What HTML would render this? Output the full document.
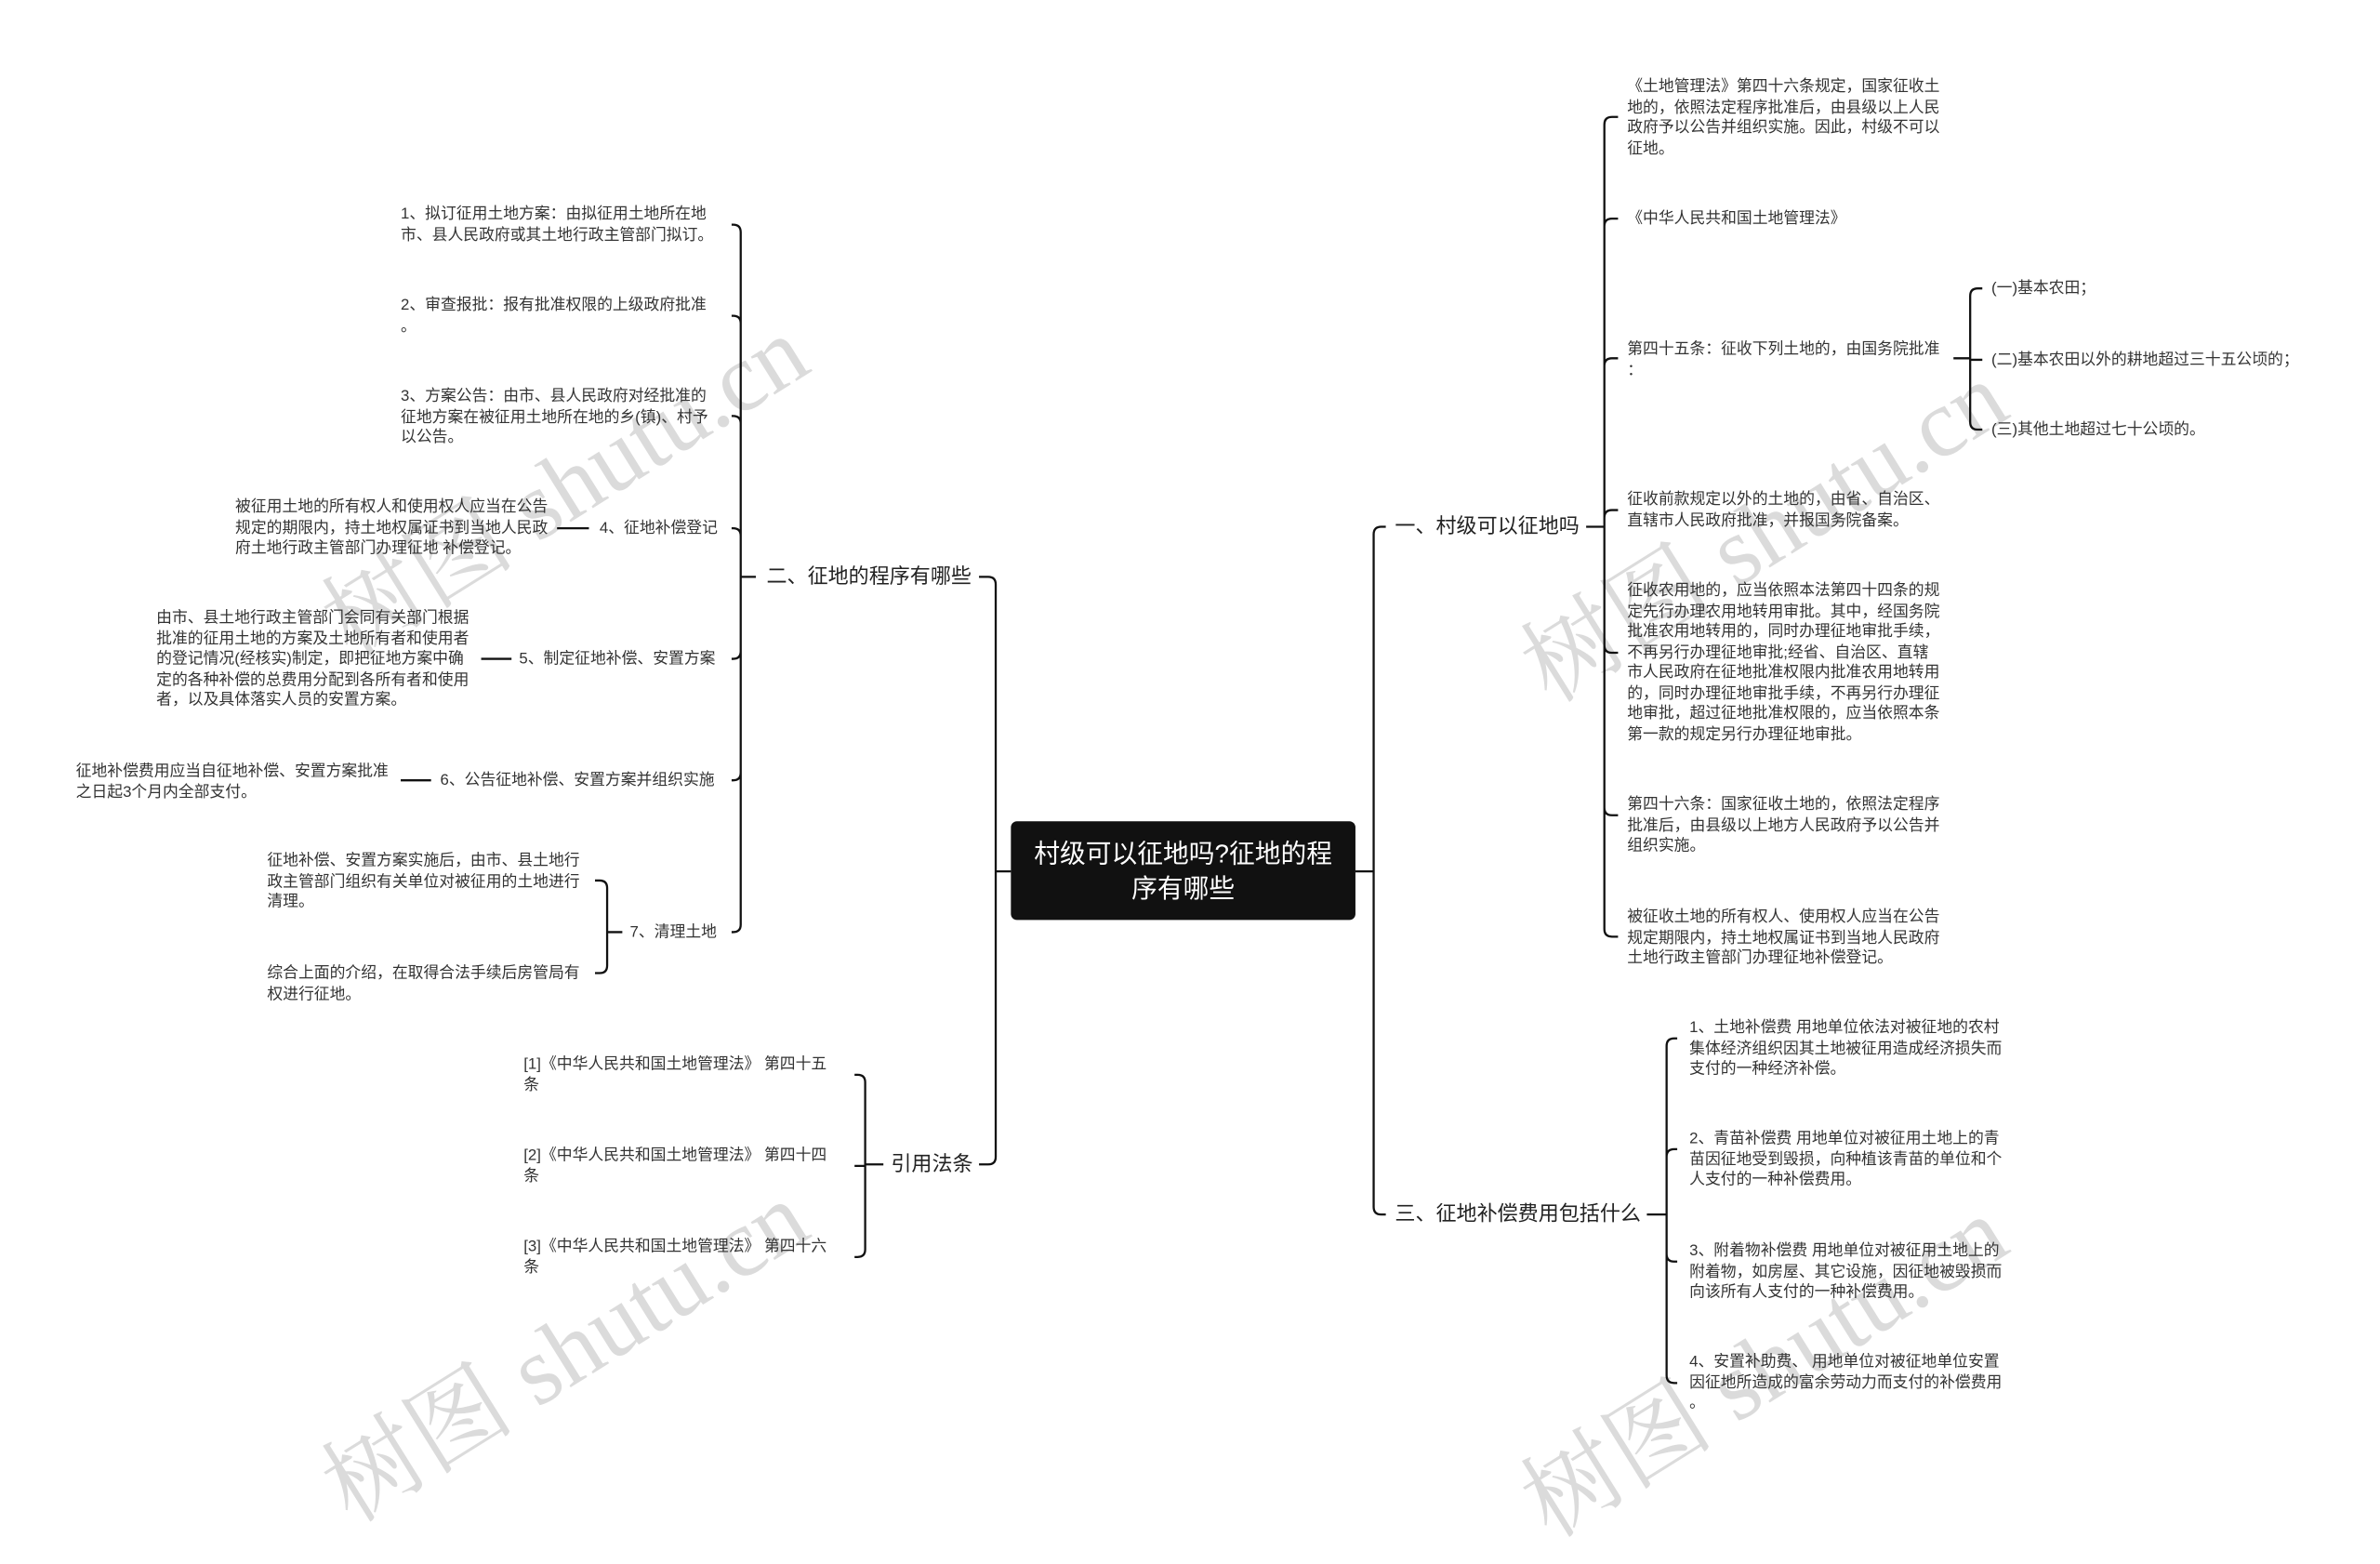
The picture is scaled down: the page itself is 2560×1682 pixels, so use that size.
<!DOCTYPE html>
<html><head><meta charset="utf-8"><style>
html,body{margin:0;padding:0;background:#fff;width:2560px;height:1601px;overflow:hidden}
#w{position:absolute;left:0;top:0;width:1568px;height:981px;transform:scale(1.63265);transform-origin:0 0;font-family:"Liberation Sans","Noto Sans CJK SC",sans-serif;color:#333}
.t{position:absolute;font-size:10.3px;line-height:13.5px;white-space:nowrap;margin-top:1px}
.b{position:absolute;font-size:13.5px;line-height:18px;white-space:nowrap;color:#222}
.wm{position:absolute;font-family:"Liberation Serif","Noto Serif CJK SC",serif;font-size:64px;color:rgba(190,190,190,0.55);transform:rotate(-32deg);white-space:nowrap}
svg{position:absolute;left:0;top:0}
</style></head><body><div id="w">
<div class="wm" style="left:190px;top:270px">树图 shutu.cn</div>
<div class="wm" style="left:980px;top:300px">树图 shutu.cn</div>
<div class="wm" style="left:190px;top:840px">树图 shutu.cn</div>
<div class="wm" style="left:980px;top:850px">树图 shutu.cn</div>
<svg id="s" width="1568" height="981" viewBox="0 0 1568 981"></svg>
<div style="position:absolute;left:666px;top:541px;width:227px;height:65px;background:#111;border-radius:4px;color:#fff;font-size:17px;line-height:23px;text-align:center;display:flex;align-items:center;justify-content:center">村级可以征地吗?征地的程<br>序有哪些</div>

<div class="b" style="left:505px;top:371px">二、征地的程序有哪些</div>
<div class="b" style="left:587px;top:758px">引用法条</div>
<div class="b" style="left:919px;top:338px">一、村级可以征地吗</div>
<div class="b" style="left:919px;top:791px">三、征地补偿费用包括什么</div>

<div class="t" style="left:264px;top:134px">1、拟订征用土地方案：由拟征用土地所在地<br>市、县人民政府或其土地行政主管部门拟订。</div>
<div class="t" style="left:264px;top:194px">2、审查报批：报有批准权限的上级政府批准<br>。</div>
<div class="t" style="left:264px;top:254px">3、方案公告：由市、县人民政府对经批准的<br>征地方案在被征用土地所在地的乡(镇)、村予<br>以公告。</div>
<div class="t" style="left:395px;top:341px">4、征地补偿登记</div>
<div class="t" style="left:155px;top:327px">被征用土地的所有权人和使用权人应当在公告<br>规定的期限内，持土地权属证书到当地人民政<br>府土地行政主管部门办理征地 补偿登记。</div>
<div class="t" style="left:342px;top:427px">5、制定征地补偿、安置方案</div>
<div class="t" style="left:103px;top:400px">由市、县土地行政主管部门会同有关部门根据<br>批准的征用土地的方案及土地所有者和使用者<br>的登记情况(经核实)制定，即把征地方案中确<br>定的各种补偿的总费用分配到各所有者和使用<br>者，以及具体落实人员的安置方案。</div>
<div class="t" style="left:290px;top:507px">6、公告征地补偿、安置方案并组织实施</div>
<div class="t" style="left:50px;top:501px">征地补偿费用应当自征地补偿、安置方案批准<br>之日起3个月内全部支付。</div>
<div class="t" style="left:415px;top:607px">7、清理土地</div>
<div class="t" style="left:176px;top:560px">征地补偿、安置方案实施后，由市、县土地行<br>政主管部门组织有关单位对被征用的土地进行<br>清理。</div>
<div class="t" style="left:176px;top:634px">综合上面的介绍，在取得合法手续后房管局有<br>权进行征地。</div>

<div class="t" style="left:345px;top:694px">[1]《中华人民共和国土地管理法》 第四十五<br>条</div>
<div class="t" style="left:345px;top:754px">[2]《中华人民共和国土地管理法》 第四十四<br>条</div>
<div class="t" style="left:345px;top:814px">[3]《中华人民共和国土地管理法》 第四十六<br>条</div>

<div class="t" style="left:1072px;top:50px">《土地管理法》第四十六条规定，国家征收土<br>地的，依照法定程序批准后，由县级以上人民<br>政府予以公告并组织实施。因此，村级不可以<br>征地。</div>
<div class="t" style="left:1072px;top:137px">《中华人民共和国土地管理法》</div>
<div class="t" style="left:1072px;top:223px">第四十五条：征收下列土地的，由国务院批准<br>：</div>
<div class="t" style="left:1312px;top:183px">(一)基本农田；</div>
<div class="t" style="left:1312px;top:230px">(二)基本农田以外的耕地超过三十五公顷的；</div>
<div class="t" style="left:1312px;top:276px">(三)其他土地超过七十公顷的。</div>
<div class="t" style="left:1072px;top:322px">征收前款规定以外的土地的，由省、自治区、<br>直辖市人民政府批准，并报国务院备案。</div>
<div class="t" style="left:1072px;top:382px">征收农用地的，应当依照本法第四十四条的规<br>定先行办理农用地转用审批。其中，经国务院<br>批准农用地转用的，同时办理征地审批手续，<br>不再另行办理征地审批;经省、自治区、直辖<br>市人民政府在征地批准权限内批准农用地转用<br>的，同时办理征地审批手续，不再另行办理征<br>地审批，超过征地批准权限的，应当依照本条<br>第一款的规定另行办理征地审批。</div>
<div class="t" style="left:1072px;top:523px">第四十六条：国家征收土地的，依照法定程序<br>批准后，由县级以上地方人民政府予以公告并<br>组织实施。</div>
<div class="t" style="left:1072px;top:597px">被征收土地的所有权人、使用权人应当在公告<br>规定期限内，持土地权属证书到当地人民政府<br>土地行政主管部门办理征地补偿登记。</div>

<div class="t" style="left:1113px;top:670px">1、土地补偿费 用地单位依法对被征地的农村<br>集体经济组织因其土地被征用造成经济损失而<br>支付的一种经济补偿。</div>
<div class="t" style="left:1113px;top:743px">2、青苗补偿费 用地单位对被征用土地上的青<br>苗因征地受到毁损，向种植该青苗的单位和个<br>人支付的一种补偿费用。</div>
<div class="t" style="left:1113px;top:817px">3、附着物补偿费 用地单位对被征用土地上的<br>附着物，如房屋、其它设施，因征地被毁损而<br>向该所有人支付的一种补偿费用。</div>
<div class="t" style="left:1113px;top:890px">4、安置补助费、 用地单位对被征地单位安置<br>因征地所造成的富余劳动力而支付的补偿费用<br>。</div>
</div>
<script>
var s=document.getElementById('s'),d='';
function conn(x0,y0,bx,ys,ex){
  d+='M'+x0+' '+y0+'L'+bx+' '+y0;
  var r=5,dir=ex<bx?-1:1;
  ys.forEach(function(y){
    var sg=y<y0?-1:(y>y0?1:0);
    if(Math.abs(y-y0)<r){d+='M'+bx+' '+y0+'L'+bx+' '+y+'L'+ex+' '+y;return;}
    d+='M'+bx+' '+y0+'L'+bx+' '+(y-sg*r)+'Q'+bx+' '+y+' '+(bx+dir*r)+' '+y+'L'+ex+' '+y;
  });
}
function line(a,y,b){d+='M'+a+' '+y+'L'+b+' '+y;}
conn(666,574,656,[380,767],645);
conn(498,380,488,[148,208,274,348,434,514,614],482);
line(367,348,388);line(317,434,337);line(264,514,284);
conn(410,614,400,[580,641],392);
conn(582,767,570,[708,768,828],563);
conn(893,574,905,[347,800],913);
conn(1045,347,1057,[77,144,236,336,430,537,617],1066);
conn(1287,236,1298,[190,237,283],1306);
conn(1085,800,1098,[684,757,831,911],1105);
s.innerHTML='<path d="'+d+'" fill="none" stroke="#111" stroke-width="1.4"/>';
</script>
</body></html>
